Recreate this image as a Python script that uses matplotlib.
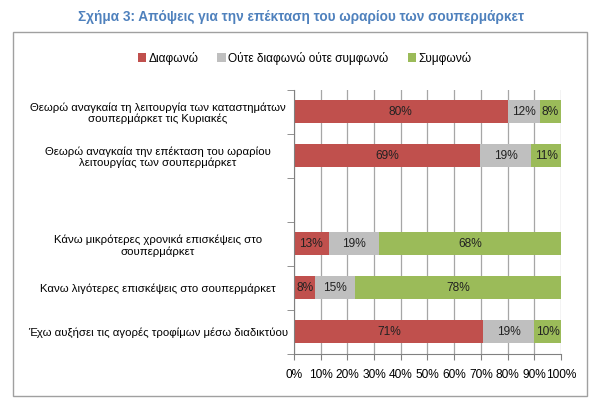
import numpy as np
import matplotlib
matplotlib.use('Agg')
from matplotlib import pyplot as plt
from matplotlib.patches import Rectangle

plt.rcParams['font.family'] = ['Liberation Sans Narrow', 'Liberation Sans', 'DejaVu Sans']

# κατηγορίες (από πάνω προς τα κάτω, μία κενή θέση)
categories = [
    'Θεωρώ αναγκαία τη λειτουργία των καταστημάτων\nσουπερμάρκετ τις Κυριακές',
    'Θεωρώ αναγκαία την επέκταση του ωραρίου\nλειτουργίας των σουπερμάρκετ',
    '',
    'Κάνω μικρότερες χρονικά επισκέψεις στο\nσουπερμάρκετ',
    'Κανω λιγότερες επισκέψεις στο σουπερμάρκετ',
    'Έχω αυξήσει τις αγορές τροφίμων μέσω διαδικτύου',
]
series_names = ['Διαφωνώ', 'Ούτε διαφωνώ ούτε συμφωνώ', 'Συμφωνώ']
disagree = [80, 69, 0, 13, 8, 71]
neutral = [12, 19, 0, 19, 15, 19]
agree = [8, 11, 0, 68, 78, 10]
colors = ['#C0504D', '#BFBFBF', '#9BBB59']

values = np.array([disagree, neutral, agree], dtype=float)
totals = values.sum(axis=0)
totals[totals == 0] = 1
shares = values / totals  # 100% stacked, όπως στο Excel

fig = plt.figure(figsize=(5.97, 4.11), dpi=100)
ax = fig.add_axes([0.4925, 0.139, 0.447, 0.643])

fs = 8.6
y = np.arange(len(categories))
left = np.zeros(len(categories))
for k in range(3):
    ax.barh(y, shares[k], left=left, height=0.52, color=colors[k],
            label=series_names[k], zorder=2)
    for i in range(len(categories)):
        if values[k, i] > 0:
            ax.text(left[i] + shares[k, i] / 2, y[i], '%d%%' % values[k, i],
                    ha='center', va='center', fontsize=fs, color='#222222', zorder=3)
    left += shares[k]

ax.set_ylim(len(categories) - 0.5, -0.5)
ax.set_xlim(0, 1)
ax.set_xticks(np.arange(0, 1.01, 0.1))
ax.set_xticklabels(['%d%%' % v for v in range(0, 101, 10)], fontsize=fs)
ax.set_yticks(y)
ax.set_yticklabels(categories, fontsize=8.2, ha='center', multialignment='center',
                   linespacing=1.15)
ax.tick_params(axis='y', length=0, pad=98)
ax.set_yticks(np.arange(-0.5, len(categories), 1), minor=True)
ax.tick_params(axis='y', which='minor', length=5, color='#808080', direction='out')
ax.tick_params(axis='x', length=4, color='#808080', pad=7)
ax.grid(axis='x', color='#A6A6A6', linewidth=0.9, zorder=0)
for s in ['top', 'right']:
    ax.spines[s].set_visible(False)
for s in ['left', 'bottom']:
    ax.spines[s].set_color('#808080')

# πλαίσιο γραφήματος
fig.patches.append(Rectangle((13 / 597, 1 - 396 / 411), 574 / 597, 364 / 411,
                             transform=fig.transFigure, fill=False,
                             edgecolor='#A0A0A0', linewidth=1))

fig.text(0.505, 1 - 17 / 411, 'Σχήμα 3: Απόψεις για την επέκταση του ωραρίου των σουπερμάρκετ',
         ha='center', va='center', fontsize=9.8, fontweight='bold', color='#4F81BD')

fig.legend(loc='center', bbox_to_anchor=(0.51, 1 - 58 / 411), ncol=3, frameon=False,
           fontsize=fs, handlelength=0.7, handleheight=0.7, handletextpad=0.2,
           columnspacing=1.6)

plt.savefig('out.png', dpi=100)
